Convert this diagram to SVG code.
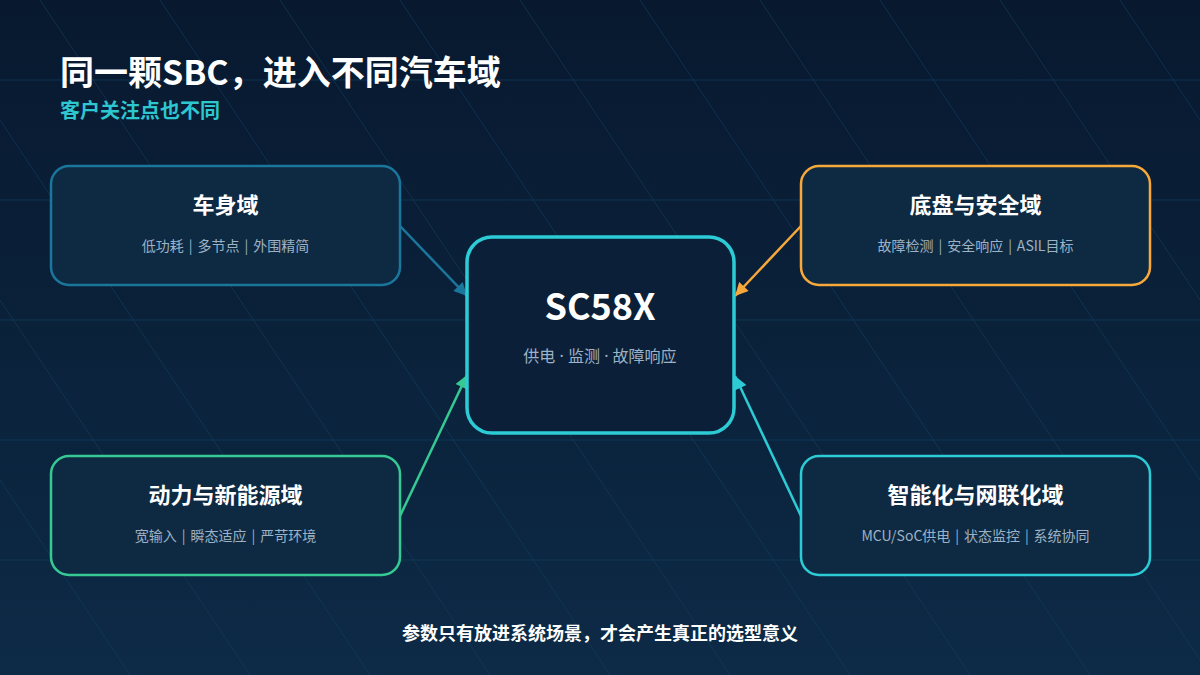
<svg xmlns="http://www.w3.org/2000/svg" width="1200" height="675" viewBox="0 0 1200 675">
  <defs>
    <linearGradient id="bg" x1="0" y1="0" x2="0" y2="1">
      <stop offset="0" stop-color="#08192f"/>
      <stop offset="1" stop-color="#0d2a46"/>
    </linearGradient>
    <marker id="arrBlue" viewBox="0 0 10 10" refX="10" refY="5" markerWidth="16" markerHeight="13" markerUnits="userSpaceOnUse" orient="auto">
      <path d="M0,0 L10,5 L0,10 Z" fill="#1b769c"/>
    </marker>
    <marker id="arrOrange" viewBox="0 0 10 10" refX="10" refY="5" markerWidth="16" markerHeight="13" markerUnits="userSpaceOnUse" orient="auto">
      <path d="M0,0 L10,5 L0,10 Z" fill="#f7a83a"/>
    </marker>
    <marker id="arrGreen" viewBox="0 0 10 10" refX="10" refY="5" markerWidth="16" markerHeight="13" markerUnits="userSpaceOnUse" orient="auto">
      <path d="M0,0 L10,5 L0,10 Z" fill="#36c993"/>
    </marker>
    <marker id="arrCyan" viewBox="0 0 10 10" refX="10" refY="5" markerWidth="16" markerHeight="13" markerUnits="userSpaceOnUse" orient="auto">
      <path d="M0,0 L10,5 L0,10 Z" fill="#2ccbd5"/>
    </marker>
  </defs>
  <style>
    text { font-family: "Noto Sans CJK SC", "Noto Sans", sans-serif; }
    .grid { stroke: #124366; stroke-width: 1; opacity: 0.6; fill: none; }
    .diag { stroke: #124366; stroke-width: 1; opacity: 0.55; fill: none; }
    .node rect { fill: #0e2a42; stroke-width: 2.5; }
    .ntitle { font-size: 22px; font-weight: 700; fill: #ffffff; text-anchor: middle; }
    .nsub { font-size: 14px; fill: #9db2c6; text-anchor: middle; word-spacing: 1.8px; }
    .sep { font-family: "Noto Sans", sans-serif; }
    .conn { fill: none; stroke-width: 2.5; }
  </style>
  <rect x="0" y="0" width="1200" height="675" fill="url(#bg)"/>
  <g id="background-grid">
    <line class="grid" x1="0" y1="80" x2="1200" y2="80"/>
    <line class="grid" x1="0" y1="200" x2="1200" y2="200"/>
    <line class="grid" x1="0" y1="320" x2="1200" y2="320"/>
    <line class="grid" x1="0" y1="440" x2="1200" y2="440"/>
    <line class="grid" x1="0" y1="560" x2="1200" y2="560"/>
    <line class="diag" x1="-320" y1="0" x2="130" y2="675"/>
    <line class="diag" x1="-200" y1="0" x2="250" y2="675"/>
    <line class="diag" x1="-80" y1="0" x2="370" y2="675"/>
    <line class="diag" x1="40" y1="0" x2="490" y2="675"/>
    <line class="diag" x1="160" y1="0" x2="610" y2="675"/>
    <line class="diag" x1="280" y1="0" x2="730" y2="675"/>
    <line class="diag" x1="400" y1="0" x2="850" y2="675"/>
    <line class="diag" x1="520" y1="0" x2="970" y2="675"/>
    <line class="diag" x1="640" y1="0" x2="1090" y2="675"/>
    <line class="diag" x1="760" y1="0" x2="1210" y2="675"/>
    <line class="diag" x1="880" y1="0" x2="1330" y2="675"/>
    <line class="diag" x1="1000" y1="0" x2="1450" y2="675"/>
    <line class="diag" x1="1120" y1="0" x2="1570" y2="675"/>
  </g>
  <g id="header">
    <text x="60" y="85" font-size="34" font-weight="700" fill="#ffffff">同一颗SBC，进入不同汽车域</text>
    <text x="60" y="118" font-size="20" font-weight="700" fill="#2ec7d0">客户关注点也不同</text>
  </g>
  <g id="connectors">
    <line class="conn" x1="400" y1="226" x2="467" y2="296" stroke="#1b769c" marker-end="url(#arrBlue)"/>
    <line class="conn" x1="801" y1="226" x2="735" y2="296" stroke="#f7a83a" marker-end="url(#arrOrange)"/>
    <line class="conn" x1="400" y1="516" x2="467" y2="375" stroke="#36c993" marker-end="url(#arrGreen)"/>
    <line class="conn" x1="801" y1="516" x2="735" y2="376" stroke="#2ccbd5" marker-end="url(#arrCyan)"/>
  </g>
  <g id="node-center">
    <rect x="467" y="237" width="267" height="196" rx="25" fill="#0b2038" stroke="#2ccbd5" stroke-width="3.5"/>
    <text x="600" y="320" font-size="36" font-weight="700" fill="#ffffff" text-anchor="middle">SC58X</text>
    <text x="600" y="362" font-size="16" fill="#9db2c6" text-anchor="middle">供电<tspan class="sep"> · </tspan>监测<tspan class="sep"> · </tspan>故障响应</text>
  </g>
  <g id="node-body" class="node">
    <rect x="51" y="166" width="349" height="119" rx="18" stroke="#1b769c"/>
    <text class="ntitle" x="225.5" y="213">车身域</text>
    <text class="nsub" x="225.5" y="251">低功耗 | 多节点 | 外围精简</text>
  </g>
  <g id="node-chassis" class="node">
    <rect x="801" y="166" width="349" height="119" rx="18" stroke="#f7a83a"/>
    <text class="ntitle" x="975.5" y="213">底盘与安全域</text>
    <text class="nsub" x="975.5" y="251">故障检测 | 安全响应 | ASIL目标</text>
  </g>
  <g id="node-power" class="node">
    <rect x="51" y="456" width="349" height="119" rx="18" stroke="#36c993"/>
    <text class="ntitle" x="225.5" y="503">动力与新能源域</text>
    <text class="nsub" x="225.5" y="541">宽输入 | 瞬态适应 | 严苛环境</text>
  </g>
  <g id="node-smart" class="node">
    <rect x="801" y="456" width="349" height="119" rx="18" stroke="#2ccbd5"/>
    <text class="ntitle" x="975.5" y="503">智能化与网联化域</text>
    <text class="nsub" x="975.5" y="541">MCU/SoC供电 | 状态监控 | 系统协同</text>
  </g>
  <g id="footer">
    <text x="600" y="640" font-size="18" font-weight="700" fill="#ffffff" text-anchor="middle">参数只有放进系统场景，才会产生真正的选型意义</text>
  </g>
</svg>
